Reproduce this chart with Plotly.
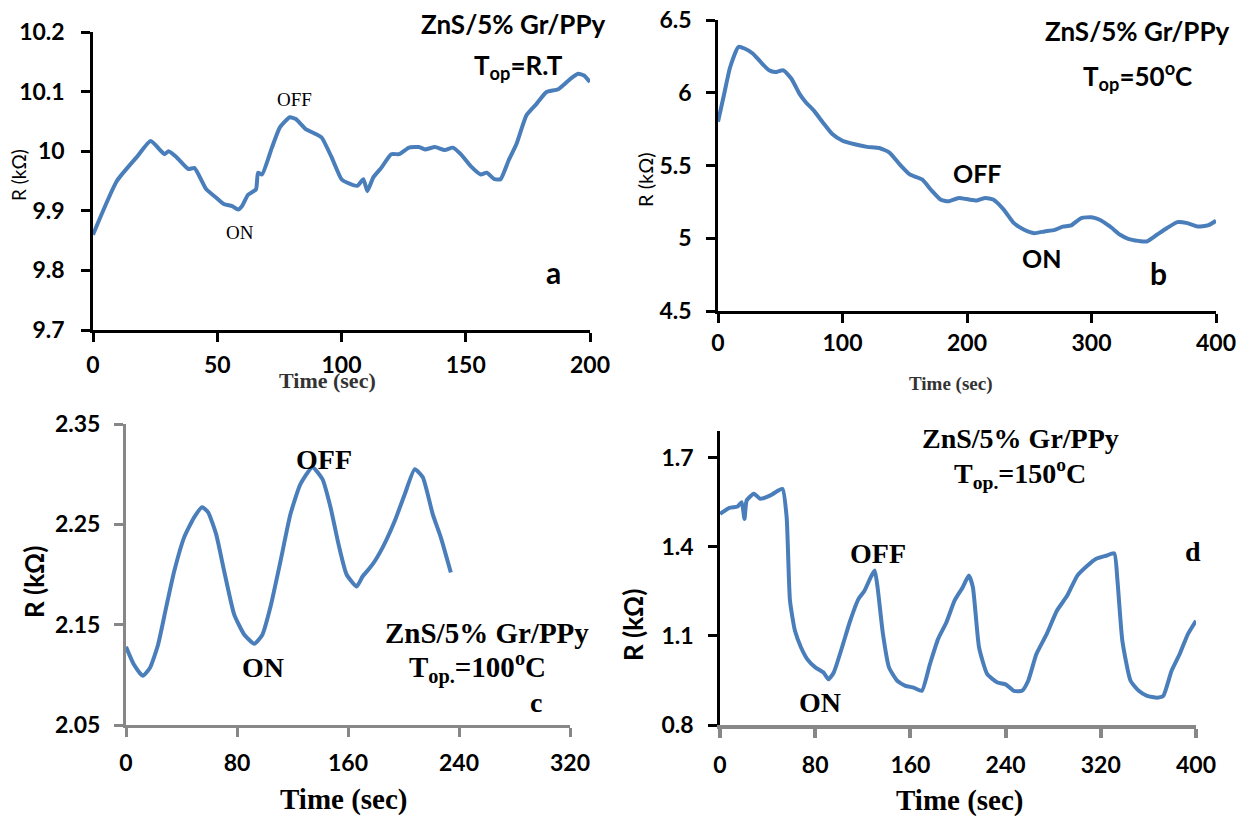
import plotly.graph_objects as go

W, H = 1257, 818
OFF = 8  # page body margin in the browser
FW, FH = W - OFF, H - OFF

# ---------------- data ----------------
t_a = [0, 9.6, 17.6, 23.2, 28.8, 30.4, 33.6, 38.4, 40.8, 45.6, 49.6, 52.8, 56, 58.4, 60, 62.4, 65.6, 66.4, 68,
       72, 75.2, 79.2, 81.6, 85.6, 89.6, 92, 96, 100, 102.4, 106.4, 108.8, 110.4, 112.8, 116, 120, 123.2, 127.2,
       131.2, 133.6, 137.6, 141.6, 144.8, 148, 152, 156, 158.4, 161.6, 164, 167.2, 170.4, 174.4, 178.4, 182.4,
       187.2, 192, 195.2, 197.6, 200]
r_a = [9.86, 9.95, 9.99, 10.017, 9.995, 10.0, 9.99, 9.97, 9.972, 9.936, 9.922, 9.911, 9.908, 9.902, 9.908, 9.927,
       9.936, 9.964, 9.961, 10.006, 10.04, 10.057, 10.054, 10.037, 10.029, 10.023, 9.99, 9.953, 9.947, 9.942,
       9.953, 9.933, 9.956, 9.972, 9.995, 9.995, 10.006, 10.007, 10.003, 10.007, 10.002, 10.006, 9.995, 9.975,
       9.961, 9.964, 9.953, 9.953, 9.984, 10.012, 10.06, 10.079, 10.099, 10.104, 10.121, 10.13, 10.127, 10.116]

t_b = [0, 4.9, 9.8, 16.4, 21.3, 27.9, 34.4, 41, 45.9, 52.5, 59, 65.6, 70.5, 77, 85.2, 91.8, 100, 109.8, 119.7,
       129.5, 137.7, 145.9, 154, 163.9, 172, 178.7, 185, 193.4, 201.6, 208, 214.8, 221, 229.5, 237.7, 245.9, 254,
       262.3, 270.5, 277, 283.6, 291.8, 300, 306.6, 314.8, 323, 329.5, 337.7, 344.3, 352.5, 360.7, 368.9, 377,
       385.2, 393.4, 400]
r_b = [5.8, 5.99, 6.177, 6.315, 6.304, 6.27, 6.21, 6.154, 6.142, 6.154, 6.096, 5.99, 5.935, 5.877, 5.785, 5.716,
       5.67, 5.646, 5.628, 5.62, 5.589, 5.508, 5.439, 5.404, 5.324, 5.266, 5.254, 5.277, 5.266, 5.26, 5.277, 5.266,
       5.197, 5.104, 5.058, 5.035, 5.047, 5.058, 5.08, 5.088, 5.139, 5.144, 5.127, 5.081, 5.024, 4.996, 4.982,
       4.978, 5.024, 5.07, 5.111, 5.104, 5.081, 5.088, 5.12]

t_c = [0, 5.8, 12.1, 17.3, 23.1, 28.9, 34.7, 41.9, 49.1, 54.9, 59.2, 65, 70.8, 78, 85.3, 92.5, 98.3, 104, 111.3,
       118.5, 125.7, 134.4, 141.6, 147.4, 153.2, 159, 166.2, 170.5, 177.7, 185, 193.6, 200.9, 208.1, 213.9, 221.1,
       226.9, 234.1]
r_c = [2.128, 2.11, 2.099, 2.107, 2.13, 2.167, 2.203, 2.237, 2.257, 2.267, 2.262, 2.24, 2.203, 2.16, 2.14, 2.131,
       2.14, 2.167, 2.213, 2.26, 2.29, 2.307, 2.295, 2.267, 2.23, 2.2, 2.188, 2.198, 2.21, 2.227, 2.253, 2.28,
       2.305, 2.297, 2.26, 2.237, 2.202]

t_d = [0, 7.9, 14.8, 18.2, 20.6, 22.4, 28.5, 33.7, 42.3, 49.2, 52.6, 56, 58.8, 63, 68.1, 73.3, 80.1, 87, 91.1,
       95.6, 102.5, 109.4, 116.3, 121.4, 126.6, 130, 132.4, 136.9, 142, 148.9, 155.8, 162.7, 169.6, 176.4, 183.3,
       190.2, 197.1, 204, 209.1, 212.5, 217.7, 224.6, 233.2, 240, 246.9, 253.8, 259, 265.9, 274.5, 283.1, 291.7,
       300.3, 308.9, 315.8, 324.4, 331.3, 334, 338.1, 345, 351.9, 358.8, 367.4, 372.5, 379.4, 386.3, 393.2, 400]
r_d = [1.511, 1.531, 1.536, 1.55, 1.494, 1.556, 1.579, 1.562, 1.573, 1.59, 1.595, 1.5, 1.219, 1.117, 1.061, 1.022,
       0.994, 0.977, 0.954, 0.977, 1.061, 1.151, 1.224, 1.252, 1.297, 1.32, 1.264, 1.107, 0.994, 0.949, 0.932,
       0.926, 0.915, 1.005, 1.09, 1.145, 1.219, 1.264, 1.303, 1.264, 1.061, 0.971, 0.943, 0.937, 0.915, 0.915,
       0.949, 1.039, 1.106, 1.185, 1.235, 1.303, 1.337, 1.359, 1.37, 1.378, 1.286, 1.084, 0.949, 0.915, 0.898,
       0.892, 0.898, 0.982, 1.039, 1.106, 1.151]

ticks_a_x = [0, 50, 100, 150, 200]
ticks_a_y = [9.7, 9.8, 9.9, 10.0, 10.1, 10.2]
ticks_b_x = [0, 100, 200, 300, 400]
ticks_b_y = [4.5, 5.0, 5.5, 6.0, 6.5]
ticks_c_x = [0, 80, 160, 240, 320]
ticks_c_y = [2.05, 2.15, 2.25, 2.35]
ticks_d_x = [0, 80, 160, 240, 320, 400]
ticks_d_y = [0.8, 1.1, 1.4, 1.7]

LINE = "#4a7ebb"
GRAY = "#878787"
SANS = "Lato"
SERIF = "Liberation Serif"


def px(x):
    return (x - OFF) / FW


def py(y):
    return 1 - (y - OFF) / FH


fig = go.Figure()
for i, (t, r) in enumerate([(t_a, r_a), (t_b, r_b), (t_c, r_c), (t_d, r_d)]):
    n = "" if i == 0 else str(i + 1)
    fig.add_trace(go.Scatter(x=t, y=r, mode="lines", line=dict(color=LINE, width=4, shape="spline", smoothing=0.5),
                             xaxis="x" + n, yaxis="y" + n, showlegend=False, cliponaxis=False))


def ax(domain, rng, ticks, color, fontsize, standoff, fmt=None, anchor=None, lw=2.5):
    d = dict(domain=domain, range=rng, tickvals=ticks, showgrid=False, zeroline=False, showline=True,
             linecolor=color, linewidth=lw, ticks="outside", tickcolor=color, ticklen=9, tickwidth=lw,
             tickfont=dict(family=SANS, size=fontsize, color="black", weight="bold"), fixedrange=True,
             anchor=anchor, automargin=False, ticklabelstandoff=standoff, ticklabeloverflow="allow")
    if fmt:
        d["ticktext"] = fmt
    return d


lay = dict(width=FW, height=FH, margin=dict(l=0, r=0, t=0, b=0), paper_bgcolor="white", plot_bgcolor="white",
           showlegend=False, template="none")

YS = 12
# panel a
lay["xaxis"] = ax([px(93), px(590)], [0, 200], ticks_a_x, "black", 23, 4, anchor="y")
lay["yaxis"] = ax([py(330), py(32)], [9.7, 10.2], ticks_a_y, "black", 23, YS,
                  fmt=["9.7", "9.8", "9.9", "10", "10.1", "10.2"], anchor="x")
# panel b
lay["xaxis2"] = ax([px(718), px(1216)], [0, 400], ticks_b_x, "black", 23, 1, anchor="y2")
lay["yaxis2"] = ax([py(311), py(20)], [4.5, 6.5], ticks_b_y, "black", 23, YS - 2,
                   fmt=["4.5", "5", "5.5", "6", "6.5"], anchor="x2")
# panel c
lay["xaxis3"] = ax([px(126), px(570)], [0, 320], ticks_c_x, GRAY, 23, 6, anchor="y3", lw=3)
lay["yaxis3"] = ax([py(725), py(424)], [2.05, 2.35], ticks_c_y, GRAY, 23, YS - 3,
                   fmt=["2.05", "2.15", "2.25", "2.35"], anchor="x3", lw=3)
# panel d
lay["xaxis4"] = ax([px(720), px(1196)], [0, 400], ticks_d_x, GRAY, 23, 8, anchor="y4", lw=3.5)
lay["yaxis4"] = ax([py(725), py(431)], [0.8, 1.79], ticks_d_y, "black", 23, YS - 2,
                   fmt=["0.8", "1.1", "1.4", "1.7"], anchor="x4")
fig.update_layout(**lay)


def note(text, x, y, family, size, bold=True, angle=0, color="black"):
    fig.add_annotation(text=text, x=px(x), y=py(y), xref="paper", yref="paper", showarrow=False,
                       xanchor="center", yanchor="middle", textangle=angle,
                       font=dict(family=family, size=size, color=color, weight="bold" if bold else "normal"))


# panel a texts
note("ZnS/5% Gr/PPy", 513, 24, SANS, 26)
note("T<sub>op</sub>=R.T", 518, 66, SANS, 26)
note("OFF", 294, 99, SERIF, 19, bold=False)
note("ON", 240, 232, SERIF, 19, bold=False)
note("a", 553, 272, SANS, 30)
note("R (kΩ)", 18, 175, SANS, 19, bold=False, angle=-90)
note("Time (sec)", 327, 380, SERIF, 22, color="#333333")

# panel b texts
note("ZnS/5% Gr/PPy", 1137, 31, SANS, 26)
note("T<sub>op</sub>=50<sup>o</sup>C", 1137, 76, SANS, 26)
note("OFF", 978, 173, SANS, 25)
note("ON", 1041, 258, SANS, 25)
note("b", 1158, 273, SANS, 30)
note("R (kΩ)", 645, 180, SANS, 20, bold=False, angle=-90)
note("Time (sec)", 951, 384, SERIF, 19, color="#333333")

# panel c texts
note("OFF", 324, 459, SERIF, 28)
note("ON", 263, 667, SERIF, 28)
note("ZnS/5% Gr/PPy", 487, 633, SERIF, 29)
note("T<sub>op.</sub>=100<sup>o</sup>C", 477, 667, SERIF, 29)
note("c", 536, 702, SERIF, 28)
note("R (kΩ)", 34, 582, SANS, 26, angle=-90)
note("Time (sec)", 344, 799, SERIF, 29)

# panel d texts
note("ZnS/5% Gr/PPy", 1020, 438, SERIF, 28)
note("T<sub>op.</sub>=150<sup>o</sup>C", 1020, 473, SERIF, 28)
note("OFF", 878, 553, SERIF, 28)
note("ON", 820, 702, SERIF, 28)
note("d", 1193, 551, SERIF, 28)
note("R (kΩ)", 633, 625, SANS, 26, angle=-90)
note("Time (sec)", 960, 800, SERIF, 29)

fig.write_html("out.html")
